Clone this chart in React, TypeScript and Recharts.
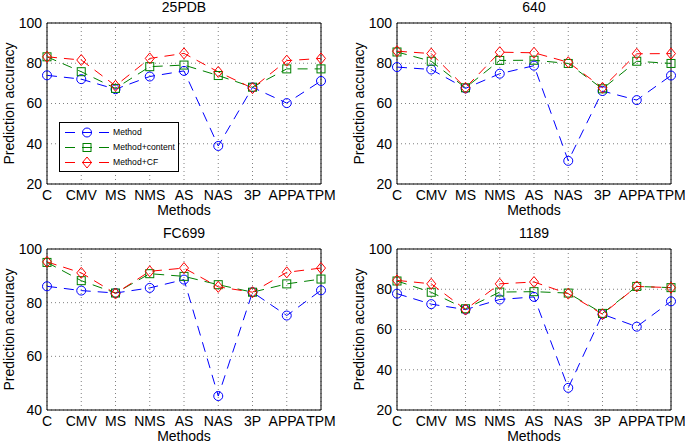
import { LineChart, Line, XAxis, YAxis, CartesianGrid, ReferenceArea, Legend } from "recharts";

// Methods on the x axis (same for all four datasets).
const methods = ["C", "CMV", "MS", "NMS", "AS", "NAS", "3P", "APPA", "TPM"];
const seriesNames = ["Method", "Method+content", "Method+CF"];

// 25PDB
const pdbMethod = [74.0, 72.1, 67.1, 73.4, 76.2, 38.9, 68.0, 60.2, 71.2];
const pdbContent = [83.2, 75.8, 67.5, 78.3, 79.1, 73.9, 68.1, 77.2, 77.2];
const pdbCF = [83.2, 81.6, 68.8, 82.4, 84.9, 75.7, 67.6, 81.3, 82.4];

// 640
const d640Method = [78.1, 76.9, 67.5, 74.8, 78.8, 31.5, 66.2, 61.7, 73.9];
const d640Content = [85.6, 81.0, 67.8, 81.4, 81.5, 79.9, 67.3, 81.0, 79.9];
const d640CF = [86.0, 84.8, 67.8, 85.5, 85.2, 80.5, 67.8, 84.7, 84.8];

// FC699
const fcMethod = [86.1, 84.5, 83.6, 85.5, 88.6, 45.2, 83.9, 75.2, 84.6];
const fcContent = [95.0, 88.2, 83.6, 90.8, 89.8, 86.7, 83.9, 87.0, 88.8];
const fcCF = [95.2, 91.1, 83.4, 91.7, 92.9, 85.9, 83.9, 91.3, 92.9];

// 1189
const d1189Method = [77.8, 72.6, 69.9, 74.9, 76.2, 31.0, 67.6, 61.4, 74.0];
const d1189Content = [84.1, 78.5, 70.3, 78.6, 78.8, 78.1, 68.0, 81.4, 80.8];
const d1189CF = [84.4, 82.7, 69.9, 82.7, 83.6, 77.8, 67.6, 81.4, 80.8];

const ticks20 = [20, 40, 60, 80, 100];
const ticks40 = [40, 60, 80, 100];

const BLUE = "#0000ff";
const GREEN = "#008000";
const RED = "#ff0000";
const DASH = "10 7";
const FONT = '"Liberation Sans", Arial, Helvetica, sans-serif';

// hollow matlab-style markers
function Marker({ kind, cx, cy, color }: { kind: string; cx: number; cy: number; color: string }) {
  if (kind === "square") {
    return <rect x={cx - 4} y={cy - 4} width={8} height={8} fill="none" stroke={color} strokeWidth={1} />;
  }
  if (kind === "diamond") {
    return (
      <polygon
        points={`${cx},${cy - 5.5} ${cx + 4.5},${cy} ${cx},${cy + 5.5} ${cx - 4.5},${cy}`}
        fill="none"
        stroke={color}
        strokeWidth={1}
      />
    );
  }
  return <circle cx={cx} cy={cy} r={4.5} fill="none" stroke={color} strokeWidth={1} />;
}

const markerOf: Record<string, string> = { Method: "circle", "Method+content": "square", "Method+CF": "diamond" };

function LegendBox(props: any) {
  // keep the plotting order, not alphabetical
  const payload = [...(props.payload || [])].sort(
    (a: any, b: any) => seriesNames.indexOf(a.value) - seriesNames.indexOf(b.value)
  );
  return (
    <div style={{ border: "1px solid #000", background: "#fff", padding: "1.5px 3px 1.5px 0", fontSize: 8.6, fontFamily: FONT }}>
      {payload.map((p: any) => (
        <div key={p.value} style={{ display: "flex", alignItems: "center", height: 15 }}>
          <svg width={53} height={15}>
            <line x1={5} y1={7.5} x2={49} y2={7.5} stroke={p.color} strokeDasharray={DASH} />
            <Marker kind={markerOf[p.value]} cx={27} cy={7.5} color={p.color} />
          </svg>
          <span>{p.value}</span>
        </div>
      ))}
    </div>
  );
}

type PanelProps = {
  title: string;
  left: number;
  top: number;
  method: number[];
  content: number[];
  cf: number[];
  yTicks: number[];
  showLegend?: boolean;
};

function Panel({ title, left, top, method, content, cf, yTicks, showLegend }: PanelProps) {
  const rows = methods.map((m, i) => ({ m, method: method[i], content: content[i], cf: cf[i] }));
  const yMin = yTicks[0];
  const yMax = yTicks[yTicks.length - 1];
  const dotFor = (kind: string, color: string) => (p: any) =>
    <Marker key={`${kind}-${p.index}`} kind={kind} cx={p.cx} cy={p.cy} color={color} />;

  return (
    <div style={{ position: "absolute", left, top, width: 345, height: 224 }}>
      <div style={{ position: "absolute", left: 47, width: 274, top: 0, textAlign: "center", fontSize: 14, lineHeight: "14px" }}>
        {title}
      </div>
      <LineChart width={345} height={224} data={rows} margin={{ top: 23, right: 24, bottom: 0, left: 7 }}>
        <CartesianGrid stroke="#808080" strokeDasharray="1 3" />
        <ReferenceArea x1="C" x2="TPM" y1={yMin} y2={yMax} fill="none" stroke="#000" strokeOpacity={1} ifOverflow="visible" />
        <XAxis
          dataKey="m"
          interval={0}
          height={40}
          tickSize={0}
          tickMargin={6}
          axisLine={false}
          tick={{ fill: "#000", fontSize: 14 }}
          label={{ value: "Methods", position: "insideBottom", offset: 9, fill: "#000", fontSize: 14 }}
        />
        <YAxis
          type="number"
          domain={[yMin, yMax]}
          ticks={yTicks}
          width={40}
          tickSize={0}
          tickMargin={5}
          axisLine={false}
          tick={{ fill: "#000", fontSize: 14 }}
          label={{
            value: "Prediction accuracy",
            angle: -90,
            position: "insideLeft",
            offset: 2,
            fill: "#000",
            fontSize: 14,
            style: { textAnchor: "middle" },
          }}
        />
        {showLegend && (
          <Legend
            layout="vertical"
            align="center"
            verticalAlign="middle"
            wrapperStyle={{ left: 59, top: 122, width: "auto" }}
            content={LegendBox}
          />
        )}
        <Line name="Method" dataKey="method" stroke={BLUE} strokeWidth={1} strokeDasharray={DASH} dot={dotFor("circle", BLUE)} isAnimationActive={false} />
        <Line name="Method+content" dataKey="content" stroke={GREEN} strokeWidth={1} strokeDasharray={DASH} dot={dotFor("square", GREEN)} isAnimationActive={false} />
        <Line name="Method+CF" dataKey="cf" stroke={RED} strokeWidth={1} strokeDasharray={DASH} dot={dotFor("diamond", RED)} isAnimationActive={false} />
      </LineChart>
    </div>
  );
}

export default function App() {
  return (
    <div style={{ position: "absolute", left: 0, top: 0, width: 685, height: 448, overflow: "hidden", background: "#fff", fontFamily: FONT }}>
      <Panel title="25PDB" left={0} top={0} method={pdbMethod} content={pdbContent} cf={pdbCF} yTicks={ticks20} showLegend />
      <Panel title="640" left={350} top={0} method={d640Method} content={d640Content} cf={d640CF} yTicks={ticks20} />
      <Panel title="FC699" left={0} top={226} method={fcMethod} content={fcContent} cf={fcCF} yTicks={ticks40} />
      <Panel title="1189" left={350} top={226} method={d1189Method} content={d1189Content} cf={d1189CF} yTicks={ticks20} />
    </div>
  );
}
